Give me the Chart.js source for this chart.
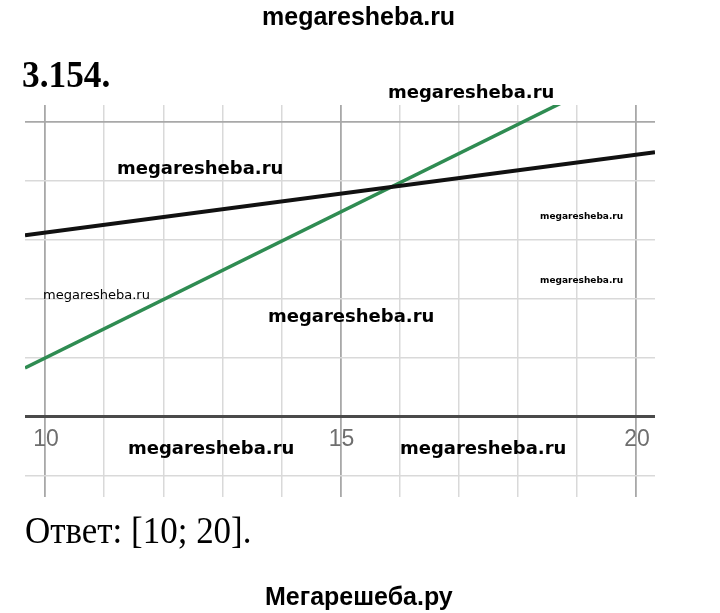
<!DOCTYPE html>
<html>
<head>
<meta charset="utf-8">
<script src="https://cdn.jsdelivr.net/npm/chart.js@4/dist/chart.umd.min.js"></script>
<style>
  html, body { margin: 0; padding: 0; background: #fff; }
  body { width: 720px; height: 613px; position: relative; overflow: hidden; }
  #wrap { position: absolute; left: 0; top: 0; width: 720px; height: 613px; }
  .t { position: absolute; white-space: nowrap; line-height: 1; color: #000; }
  .wmTop { font: bold 25px "Liberation Sans", Arial, sans-serif; }
  .wm { font: bold 18px "DejaVu Sans", Verdana, sans-serif; }
  .wmS { font: bold 9px "DejaVu Sans", Verdana, sans-serif; }
  .wmR { font: 13px "DejaVu Sans", Verdana, sans-serif; }
  .serif { font-family: "Liberation Serif", "Times New Roman", serif; font-size: 38px; transform-origin: 0 0; }
</style>
</head>
<body>
<div id="wrap"><canvas id="c" width="720" height="613"></canvas></div>

<div class="t wmTop" style="left:262px; top:2px;">megaresheba.ru</div>
<div class="t serif" style="left:22px; top:55px; font-weight:bold; transform:scaleX(0.93);">3.154.</div>
<div class="t wm" style="left:388px; top:81px;">megaresheba.ru</div>
<div class="t wm" style="left:117px; top:157px;">megaresheba.ru</div>
<div class="t wmS" style="left:540px; top:211px;">megaresheba.ru</div>
<div class="t wmS" style="left:540px; top:275px;">megaresheba.ru</div>
<div class="t wmR" style="left:43px; top:287px;">megaresheba.ru</div>
<div class="t wm" style="left:268px; top:305px;">megaresheba.ru</div>
<div class="t wm" style="left:128px; top:437px;">megaresheba.ru</div>
<div class="t wm" style="left:400px; top:437px;">megaresheba.ru</div>
<div class="t serif" style="left:25px; top:511px; transform:scaleX(0.92);">Ответ: [10; 20].</div>
<div class="t wmTop" style="left:265px; top:582px;">Мегарешеба.ру</div>

<script>
// ---- data ----
const xValues = [9.66, 20.32];
const blackY = [3.08, 4.49];
const greenY = [0.83, 6.11];
const xTickLabels = [10, 15, 20];
const xRange = [9.66, 20.32];
const yRange = [-1.36, 5.29];

const toPts = (xs, ys) => xs.map((x, i) => ({ x: x, y: ys[i] }));

const tickLabelPlugin = {
  id: 'tickLabelPlugin',
  afterDatasetsDraw(chart) {
    const ctx = chart.ctx;
    const xs = chart.scales.x, ys = chart.scales.y;
    const y0 = ys.getPixelForValue(0);
    ctx.save();
    ctx.font = '23px "Liberation Sans", Arial, sans-serif';
    ctx.fillStyle = '#6e6e6e';
    ctx.textAlign = 'center';
    ctx.textBaseline = 'middle';
    xTickLabels.forEach(v => {
      ctx.fillText(String(v), xs.getPixelForValue(v) + 1, y0 + 23);
    });
    ctx.restore();
  }
};

function gridColor(ctx) {
  const v = ctx.tick ? ctx.tick.value : NaN;
  if (ctx.scale.axis === 'y' && Math.abs(v) < 1e-9) return '#4a4a4a';
  if (Math.abs(v % 5) < 1e-9) return '#a8a8a8';
  return '#d9d9d9';
}
function gridWidth(ctx) {
  const v = ctx.tick ? ctx.tick.value : NaN;
  if (ctx.scale.axis === 'y' && Math.abs(v) < 1e-9) return 3;
  if (Math.abs(v % 5) < 1e-9) return 1.8;
  return 1.5;
}

new Chart(document.getElementById('c'), {
  type: 'scatter',
  data: {
    datasets: [
      { data: toPts(xValues, blackY), showLine: true, borderColor: '#111111', borderWidth: 4, pointRadius: 0 },
      { data: toPts(xValues, greenY), showLine: true, borderColor: '#2f8c52', borderWidth: 3.5, pointRadius: 0 }
    ]
  },
  options: {
    responsive: false,
    animation: false,
    events: [],
    layout: { padding: { left: 25, right: 65, top: 105, bottom: 116 } },
    plugins: { legend: { display: false }, tooltip: { enabled: false } },
    scales: {
      x: {
        type: 'linear', min: xRange[0], max: xRange[1],
        ticks: { display: false, stepSize: 1, includeBounds: false },
        grid: { color: gridColor, lineWidth: gridWidth, drawTicks: false },
        border: { display: false }
      },
      y: {
        type: 'linear', min: yRange[0], max: yRange[1],
        ticks: { display: false, stepSize: 1, includeBounds: false },
        grid: { color: gridColor, lineWidth: gridWidth, drawTicks: false },
        border: { display: false }
      }
    }
  },
  plugins: [tickLabelPlugin]
});
</script>
</body>
</html>
